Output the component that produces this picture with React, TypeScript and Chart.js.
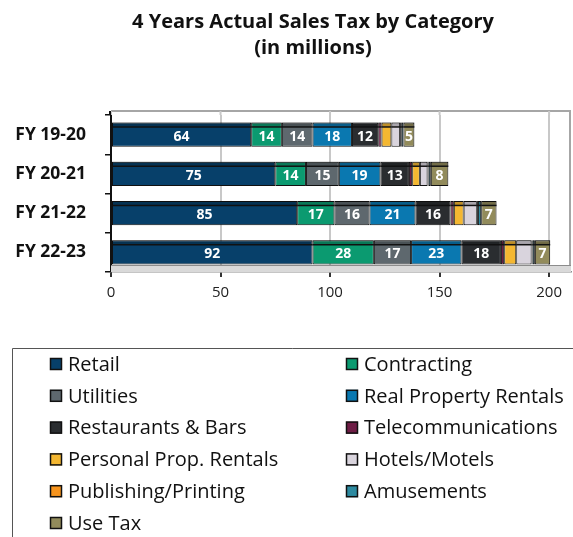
import React, { useEffect, useRef } from 'react';
import { Chart, registerables } from 'chart.js';
Chart.register(...registerables);

const categories = ['FY 19-20', 'FY 20-21', 'FY 21-22', 'FY 22-23'];
const seriesNames = [
  'Retail', 'Contracting', 'Utilities', 'Real Property Rentals', 'Restaurants & Bars',
  'Telecommunications', 'Personal Prop. Rentals', 'Hotels/Motels', 'Publishing/Printing',
  'Amusements', 'Use Tax',
];
const retail = [64, 75, 85, 92];
const contracting = [14, 14, 17, 28];
const utilities = [14, 15, 16, 17];
const realProperty = [18, 19, 21, 23];
const restaurants = [12, 13, 16, 18];
const telecom = [1.5, 1.5, 1.5, 1.5];
const personalProp = [4.5, 3.5, 4.5, 5.5];
const hotels = [4, 3.5, 6, 7];
const publishing = [0.5, 0.5, 0.5, 0.5];
const amusements = [1, 1, 1.5, 1];
const useTax = [5, 8, 7, 7];
const xTicks = [0, 50, 100, 150, 200];
const labeledSeries = ['Retail', 'Contracting', 'Utilities', 'Real Property Rentals', 'Restaurants & Bars', 'Use Tax'];

const seriesValues = [retail, contracting, utilities, realProperty, restaurants, telecom, personalProp, hotels, publishing, amusements, useTax];
const seriesColors = [
  '#07406a', '#0b9a70', '#5e686e', '#0a78b0', '#2a2d30',
  '#6e1c45', '#f4b731', '#d9d4dd', '#f7941d', '#2d8aa0', '#928b5b',
];

const FONT = '"Open Sans", sans-serif';

const decor = {
  id: 'decor',
  beforeDraw(chart: any) {
    const ctx = chart.ctx;
    ctx.save();
    ctx.fillStyle = '#ffffff';
    ctx.fillRect(0, 0, chart.width, chart.height);
    ctx.restore();
  },
  beforeDatasetsDraw(chart: any) {
    const { ctx, chartArea: a } = chart;
    ctx.save();
    const wallTop = a.top - 4;
    ctx.strokeStyle = '#a6a6a6';
    ctx.lineWidth = 2;
    ctx.beginPath();
    ctx.moveTo(a.left, wallTop);
    ctx.lineTo(a.right - 1, wallTop);
    ctx.lineTo(a.right - 1, a.bottom);
    ctx.stroke();
    // grid lines extend up to back wall top
    chart.scales.x.ticks.forEach((t: any) => {
      const px = chart.scales.x.getPixelForValue(t.value);
      ctx.strokeStyle = '#c8c8c8';
      ctx.lineWidth = 2;
      ctx.beginPath();
      ctx.moveTo(px, wallTop);
      ctx.lineTo(px, a.top);
      ctx.stroke();
    });
    ctx.strokeStyle = '#111';
    ctx.lineWidth = 2;
    ctx.beginPath();
    ctx.moveTo(a.left - 1, wallTop);
    ctx.lineTo(a.left - 1, a.top);
    ctx.stroke();
    ctx.fillStyle = '#d9d9d9';
    ctx.fillRect(a.left, a.bottom - 6, a.right - a.left, 6);
    ctx.strokeStyle = '#8c8c8c';
    ctx.lineWidth = 1;
    ctx.beginPath();
    ctx.moveTo(a.left, a.bottom - 6.5);
    ctx.lineTo(a.right, a.bottom - 6.5);
    ctx.stroke();
    ctx.restore();
  },
  afterDatasetsDraw(chart: any) {
    const ctx = chart.ctx;
    ctx.save();
    chart.data.datasets.forEach((ds: any, di: number) => {
      const meta = chart.getDatasetMeta(di);
      meta.data.forEach((bar: any, i: number) => {
        const p = bar.getProps(['x', 'y', 'base', 'height'], true);
        const left = Math.min(p.x, p.base);
        const w = Math.abs(p.x - p.base);
        const top = p.y - p.height / 2;
        ctx.fillStyle = 'rgba(0,0,0,0.22)';
        ctx.fillRect(left, top, w, 4);
        ctx.strokeStyle = '#111';
        ctx.lineWidth = 1.5;
        ctx.beginPath();
        ctx.moveTo(left, top + 4.5);
        ctx.lineTo(left + w, top + 4.5);
        ctx.stroke();
        if (labeledSeries.includes(ds.label)) {
          const v = ds.data[i];
          ctx.fillStyle = '#ffffff';
          ctx.font = `bold 14px ${FONT}`;
          ctx.textAlign = 'center';
          ctx.textBaseline = 'middle';
          ctx.fillText(String(Math.round(v)), left + w / 2, p.y + 2);
        }
      });
    });
    ctx.restore();
  },
  afterDraw(chart: any) {
    const ctx = chart.ctx;
    ctx.save();
    ctx.fillStyle = '#111';
    ctx.font = `bold 20px ${FONT}`;
    ctx.textAlign = 'center';
    ctx.textBaseline = 'middle';
    ctx.fillText('4 Years Actual Sales Tax by Category', 313, 22);
    ctx.fillText('(in millions)', 313, 48);
    ctx.strokeStyle = '#555';
    ctx.lineWidth = 1;
    ctx.beginPath();
    ctx.moveTo(12.5, chart.height);
    ctx.lineTo(12.5, 348.5);
    ctx.lineTo(chart.width, 348.5);
    ctx.stroke();
    ctx.font = `20px ${FONT}`;
    ctx.textAlign = 'left';
    chart.data.datasets.forEach((ds: any, i: number) => {
      const col = i % 2;
      const row = Math.floor(i / 2);
      const sx = col === 0 ? 50 : 346;
      const cy = 364 + row * 31.8;
      ctx.fillStyle = ds.backgroundColor;
      ctx.fillRect(sx, cy - 6, 12, 12);
      ctx.strokeStyle = '#111';
      ctx.lineWidth = 1.5;
      ctx.strokeRect(sx + 0.5, cy - 5.5, 11, 11);
      ctx.fillStyle = '#111';
      ctx.fillText(ds.label, sx + 18, cy + 1);
    });
    ctx.restore();
  },
};

export default function App() {
  const ref = useRef<HTMLCanvasElement>(null);
  useEffect(() => {
    const chart = new Chart(ref.current!, {
      type: 'bar',
      data: {
        labels: categories,
        datasets: seriesNames.map((name, i) => ({
          label: name,
          data: seriesValues[i],
          backgroundColor: seriesColors[i],
          borderColor: '#111',
          borderWidth: 1,
          borderSkipped: false,
          categoryPercentage: 1,
          barPercentage: 0.62,
        })),
      },
      options: {
        indexAxis: 'y',
        animation: false,
        responsive: false,
        devicePixelRatio: 1,
        layout: { padding: { top: 115, right: 2, bottom: 225, left: 0 } },
        plugins: { legend: { display: false }, title: { display: false }, tooltip: { enabled: false } },
        scales: {
          x: {
            stacked: true,
            min: 0,
            max: 210,
            afterBuildTicks: (s: any) => { s.ticks = xTicks.map((v) => ({ value: v })); },
            afterFit: (s: any) => { s.height = 40; },
            grid: { color: '#c8c8c8', lineWidth: 2, tickLength: 5, tickColor: '#333', drawTicks: true },
            border: { color: '#8c8c8c', width: 1.5 },
            ticks: { color: '#222', font: { family: FONT, size: 15 }, padding: 7 },
          },
          y: {
            stacked: true,
            afterFit: (s: any) => { s.width = 111; },
            grid: { offset: true, drawOnChartArea: false, tickLength: 6, color: '#111', lineWidth: 1.5 },
            border: { color: '#111', width: 2 },
            ticks: { color: '#111', font: { family: FONT, size: 17.5, weight: 'bold' }, padding: 19 },
          },
        },
      },
      plugins: [decor],
    });
    return () => chart.destroy();
  }, []);
  return (
    <div style={{ position: 'fixed', left: 0, top: 0, width: 573, height: 537, overflow: 'hidden' }}>
      <canvas ref={ref} width={573} height={537} style={{ display: 'block' }} />
    </div>
  );
}
